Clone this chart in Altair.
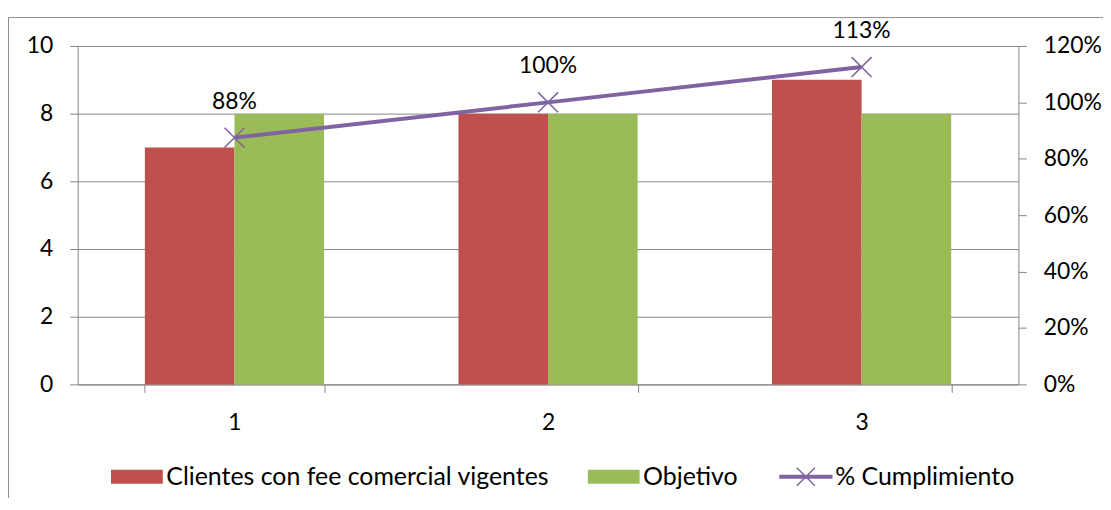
import altair as alt
import pandas as pd

categories = ["1", "2", "3"]
clientes = [7, 8, 9]
objetivo = [8, 8, 8]
cumplimiento = [0.875, 1.0, 1.125]
cumpl_labels = ["88%", "100%", "113%"]

s_cli = "Clientes con fee comercial vigentes"
s_obj = "Objetivo"
s_cum = "% Cumplimiento"
series_order = [s_cli, s_obj, s_cum]
series_colors = ["#C0504D", "#9BBB59", "#8064A2"]

bars_df = pd.DataFrame(
    [{"cat": c, "series": s_cli, "value": v} for c, v in zip(categories, clientes)]
    + [{"cat": c, "series": s_obj, "value": v} for c, v in zip(categories, objetivo)]
)
line_df = pd.DataFrame({"cat": categories, "pct": cumplimiento,
                        "label": cumpl_labels, "series": s_cum})

FONT = "Lato"
GRAY = "#868686"

color_scale = alt.Scale(domain=series_order, range=series_colors)
x_enc = alt.X("cat:N", title=None, sort=categories,
              scale=alt.Scale(paddingInner=0.42857, paddingOuter=0.214285),
              axis=alt.Axis(labelAngle=0, tickBand="extent", grid=False,
                            labelPadding=19))

LINE_SYM = "M-1,-0.05H1V0.05H-1Z M-0.35,-0.35L0.35,0.35M-0.35,0.35L0.35,-0.35"
BAR_SYM = "M-1,-0.27H1V0.27H-1Z"

legend = alt.Legend(
    title=None, orient="none", legendX=47, legendY=420, direction="horizontal",
    symbolSize=2704, columnPadding=38, labelOffset=17, labelLimit=800,
    labelFont=FONT, labelFontSize=25, labelColor="black",
    symbolOpacity=1,
    symbolType={"expr": f"datum.value === '% Cumplimiento' ? '{LINE_SYM}' : '{BAR_SYM}'"},
    symbolStrokeWidth={"expr": "datum.value === '% Cumplimiento' ? 1.5 : 0"},
)

bars = alt.Chart(bars_df).mark_bar().encode(
    x=x_enc,
    xOffset=alt.XOffset("series:N", sort=[s_cli, s_obj]),
    y=alt.Y("value:Q", title=None,
            scale=alt.Scale(domain=[0, 10]),
            axis=alt.Axis(values=[0, 2, 4, 6, 8, 10], grid=True, orient="left",
                          labelPadding=17)),
    color=alt.Color("series:N", scale=color_scale, legend=legend),
)

y_right = alt.Y("pct:Q", title=None, scale=alt.Scale(domain=[0, 1.2]),
                axis=alt.Axis(values=[0, 0.2, 0.4, 0.6, 0.8, 1.0, 1.2], format=".0%",
                              orient="right", grid=False, labelPadding=17))

line = alt.Chart(line_df).mark_line(strokeWidth=4).encode(
    x=x_enc, y=y_right,
    color=alt.Color("series:N", scale=color_scale, legend=legend),
)
points = alt.Chart(line_df).mark_point(
    shape="M-1,-1L1,1M-1,1L1,-1", size=400, filled=False,
    stroke="#8064A2", strokeWidth=1.5, opacity=1,
).encode(x=x_enc, y=y_right)
texts = alt.Chart(line_df).mark_text(
    dy=-36, font=FONT, fontSize=23, color="black"
).encode(x=x_enc, y=y_right, text="label:N")

frame_left = alt.Chart(alt.Data(values=[{}])).mark_rule(color="#8c8c8c", strokeWidth=1).encode(
    x=alt.value(-69.5), y=alt.value(-28.5), y2=alt.value(460))
frame_top = alt.Chart(alt.Data(values=[{}])).mark_rule(color="#8c8c8c", strokeWidth=1).encode(
    x=alt.value(-69.5), x2=alt.value(1040), y=alt.value(-28.5))

right_layer = alt.layer(line, points, texts)

chart = alt.layer(bars, right_layer, frame_left, frame_top).resolve_scale(
    y="independent"
).properties(
    width=945, height=340,
    padding={"left": 70, "top": 37, "right": 85, "bottom": 113},
    autosize=alt.AutoSizeParams(type="none"),
).configure_view(strokeWidth=0).configure_axis(
    domainColor=GRAY, tickColor=GRAY, gridColor=GRAY, tickSize=8,
    labelFont=FONT, labelFontSize=23, labelColor="black",
    domainWidth=1, tickWidth=1, gridWidth=1,
)

chart.save("out.html", embed_options={"renderer": "svg", "actions": False})
